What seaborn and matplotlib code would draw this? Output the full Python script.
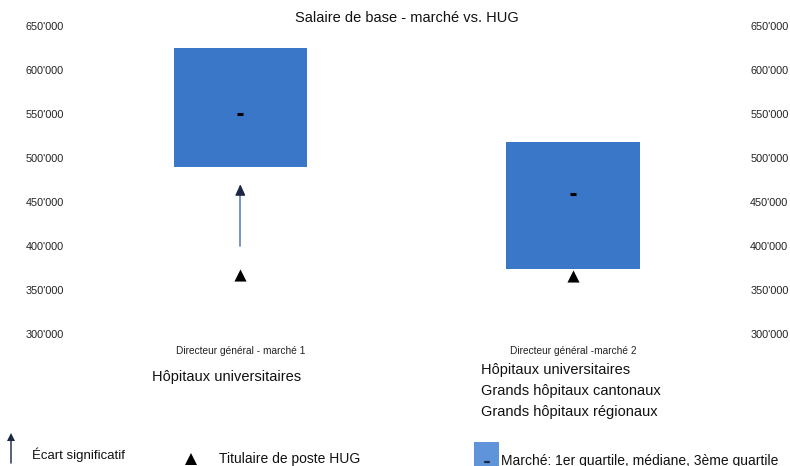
import numpy as np
import pandas as pd
import matplotlib
matplotlib.use("Agg")
import matplotlib.pyplot as plt
from matplotlib.ticker import FuncFormatter
from matplotlib.patches import Rectangle
from matplotlib.lines import Line2D
import seaborn as sns

# ---------------- data ----------------
categories = ["Directeur général - marché 1", "Directeur général -marché 2"]
q1 = [490000, 374000]
median = [550000, 459000]
q3 = [625000, 518000]
hug = [367000, 366000]
arrow_start = [400000, None]
arrow_end = [470000, None]
groups = [["Hôpitaux universitaires"],
          ["Hôpitaux universitaires", "Grands hôpitaux cantonaux", "Grands hôpitaux régionaux"]]
yticks = [300000, 350000, 400000, 450000, 500000, 550000, 600000, 650000]
title = "Salaire de base - marché vs. HUG"
legend_labels = ["Écart significatif", "Titulaire de poste HUG",
                 "Marché: 1er quartile, médiane, 3ème quartile"]

# ---------------- style ----------------
sns.set_theme(style="white")
plt.rcParams["font.family"] = ["Liberation Sans", "DejaVu Sans"]

BLUE = "#3B77C9"
LEG_BLUE = "#5F93DA"
W, H = 790, 466

fig = plt.figure(figsize=(W / 100, H / 100), dpi=100)
ax = fig.add_axes([68 / W, 132 / H, 678 / W, (440.3 - 132) / H])

idx = np.arange(len(categories))
df = pd.DataFrame({"cat": categories, "height": np.array(q3) - np.array(q1)})

sns.barplot(data=df, x="cat", y="height", bottom=q1, width=0.4, color=BLUE,
            saturation=1, errorbar=None, linewidth=0, ax=ax)

# HUG holders
sns.scatterplot(x=idx, y=hug, marker="^", s=76, color="black", linewidth=0,
                ax=ax, legend=False, zorder=5)
# medians
sns.scatterplot(x=idx, y=median, marker="_", s=20, color="black", linewidths=2.2,
                ax=ax, legend=False, zorder=5)

# significant-gap arrows
for i, (a0, a1) in enumerate(zip(arrow_start, arrow_end)):
    if a0 is None:
        continue
    ax.plot([i, i], [a0, a1 - 6000], color="#6A8DBE", lw=1.3, zorder=4)
    ax.annotate("", xy=(i, a1), xytext=(i, a1 - 6000),
                arrowprops=dict(arrowstyle="-|>,head_length=0.55,head_width=0.25",
                                color="#1B2744", lw=1.0, shrinkA=0, shrinkB=0),
                zorder=5)

ax.set_ylim(yticks[0], yticks[-1])
ax.set_xlim(-0.518, 1.520)
ax.set_yticks(yticks)
ax.yaxis.set_major_formatter(FuncFormatter(lambda v, p: f"{int(v):,}".replace(",", "'")))
ax.tick_params(axis="y", left=False, right=False, labelleft=True, labelright=True,
               labelsize=7.8, pad=3, length=0, labelcolor="#222222")
ax.set_xticks(idx)
ax.set_xticklabels(categories, fontsize=7.3, color="#222222")
ax.tick_params(axis="x", length=0, pad=8.5)
ax.set_xlabel("")
ax.set_ylabel("")
for s in ax.spines.values():
    s.set_visible(False)
ax.grid(False)

# title
fig.text(407 / W, 1 - 18 / H, title, ha="center", va="center", fontsize=10.5, color="#111111")

# group labels
fig.text(151.7 / W, 1 - 377 / H, groups[0][0], ha="left", va="center", fontsize=10.5, color="#111111")
for k, g in enumerate(groups[1]):
    fig.text(481 / W, 1 - (370 + 21 * k) / H, g, ha="left", va="center", fontsize=10.5, color="#111111")

# ---------------- legend ----------------
fig.add_artist(Line2D([11 / W, 11 / W], [3 / H, 27 / H], color="#3A4763", lw=1.2,
                      transform=fig.transFigure))
fig.add_artist(Line2D([11 / W], [29.5 / H], marker="^", markersize=5.2, color="#1B2744",
                      markeredgewidth=0, transform=fig.transFigure))
fig.text(31.7 / W, 11 / H, legend_labels[0], ha="left", va="center", fontsize=9.5, color="#111111")

fig.add_artist(Line2D([191 / W], [7.5 / H], marker="^", markersize=8.6, color="black",
                      markeredgewidth=0, transform=fig.transFigure))
fig.text(219 / W, 7 / H, legend_labels[1], ha="left", va="center", fontsize=10, color="#111111")

fig.add_artist(Rectangle((474 / W, 0), 25 / W, 24.3 / H, facecolor=LEG_BLUE, edgecolor="none",
                         transform=fig.transFigure))
fig.add_artist(Line2D([485 / W, 489 / W], [4.3 / H, 4.3 / H], color="#1B2744", lw=1.6,
                      transform=fig.transFigure))
fig.text(501 / W, 5.5 / H, legend_labels[2], ha="left", va="center", fontsize=10, color="#111111")

fig.savefig("out.png", dpi=100)
